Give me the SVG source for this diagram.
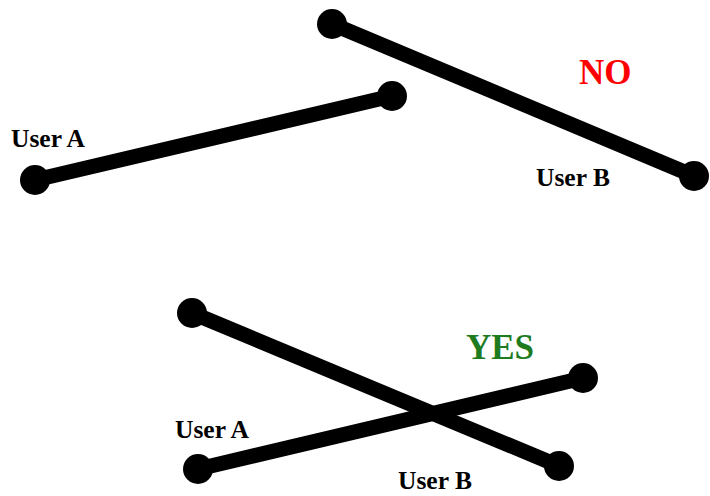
<svg xmlns="http://www.w3.org/2000/svg" width="710" height="496" viewBox="0 0 710 496">
  <style>
    .seg { stroke: #000; stroke-width: 15; stroke-linecap: round; fill: none; }
    .end { fill: #000; }
    .lbl { font-family: "Liberation Serif", "Times New Roman", serif; font-weight: bold; font-size: 25.5px; fill: #000; }
    .verdict { font-family: "Liberation Serif", "Times New Roman", serif; font-weight: bold; font-size: 35px; }
  </style>
  <rect width="710" height="496" fill="#fff"/>

  <!-- Upper case: segments do not cross -->
  <g id="connectors-top">
    <line class="seg" x1="35" y1="180" x2="392" y2="96"/>
    <line class="seg" x1="332" y1="24" x2="694" y2="176"/>
  </g>
  <g id="userA-top">
    <circle class="end" cx="35" cy="180" r="15"/>
    <circle class="end" cx="392" cy="96" r="15"/>
    <text class="lbl" x="11" y="147">User A</text>
  </g>
  <g id="userB-top">
    <circle class="end" cx="332" cy="24" r="15"/>
    <circle class="end" cx="694" cy="176" r="15"/>
    <text class="lbl" x="536" y="186">User B</text>
  </g>
  <text id="no" class="verdict" x="579" y="84" fill="#ff0000">NO</text>

  <!-- Lower case: segments cross -->
  <g id="connectors-bottom">
    <line class="seg" x1="192" y1="313" x2="559" y2="466"/>
    <line class="seg" x1="198" y1="469" x2="583" y2="378"/>
  </g>
  <g id="userA-bottom">
    <circle class="end" cx="198" cy="469" r="15"/>
    <circle class="end" cx="583" cy="378" r="15"/>
    <text class="lbl" x="175" y="438">User A</text>
  </g>
  <g id="userB-bottom">
    <circle class="end" cx="192" cy="313" r="15"/>
    <circle class="end" cx="559" cy="466" r="15"/>
    <text class="lbl" x="398" y="489">User B</text>
  </g>
  <text id="yes" class="verdict" x="466" y="359" fill="#1e7b1e">YES</text>
</svg>
